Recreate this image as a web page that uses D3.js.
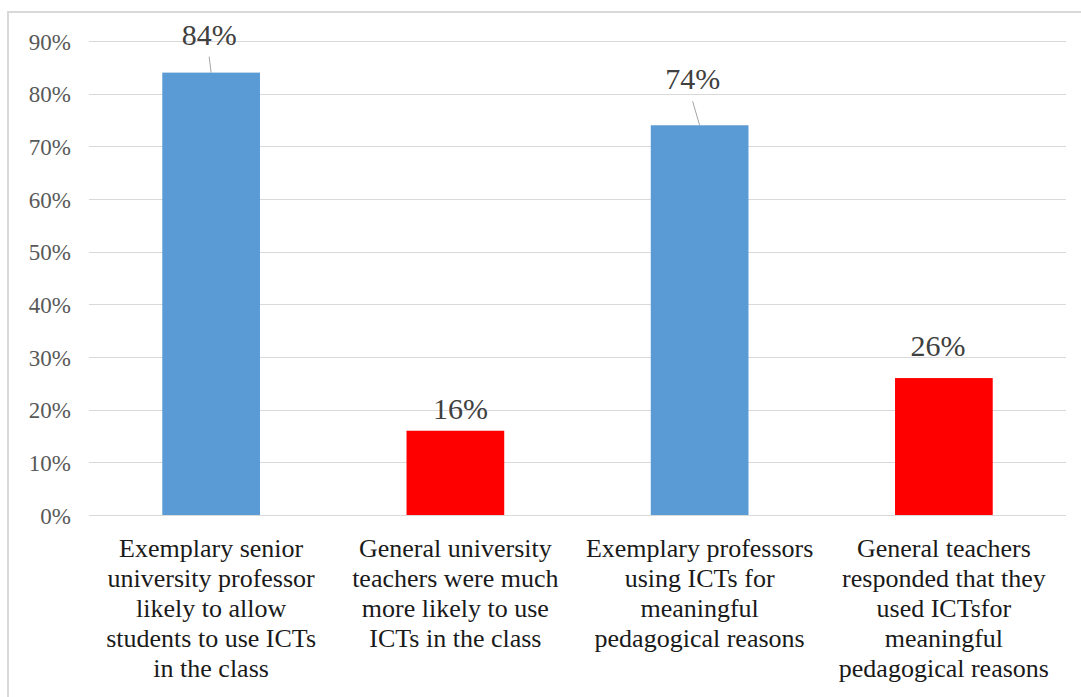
<!DOCTYPE html>
<html><head><meta charset="utf-8">
<script src="https://cdn.jsdelivr.net/npm/d3@7"></script>
<style>body{margin:0;background:#fff}svg{display:block}</style>
</head><body><svg id="c" width="1081" height="697"></svg>
<script>
const categories = [
  ["Exemplary senior","university professor","likely to allow","students to use ICTs","in the class"],
  ["General university","teachers were much","more likely to use","ICTs in the class"],
  ["Exemplary professors","using ICTs for","meaningful","pedagogical reasons"],
  ["General teachers","responded that they","used ICTsfor","meaningful","pedagogical reasons"]
];
const values = [0.84, 0.16, 0.74, 0.26];
const barColors = ["#5B9BD5", "#FF0000", "#5B9BD5", "#FF0000"];
const tickValues = [0, 0.1, 0.2, 0.3, 0.4, 0.5, 0.6, 0.7, 0.8, 0.9];

const svg = d3.select("#c");
const L = 89, R = 1066, T = 41, B = 515;
const SERIF = '"Liberation Serif", "Times New Roman", serif';

// border
svg.append("rect").attr("x", 8).attr("y", 12).attr("width", 1090).attr("height", 700)
  .attr("fill", "none").attr("stroke", "#d9d9d9").attr("stroke-width", 2);

const x = d3.scaleBand().domain(d3.range(values.length)).range([L, R]).padding(0);
const y = d3.scaleLinear().domain([0, 0.9]).range([B, T]);

// gridlines
svg.append("g").selectAll("line").data(tickValues).join("line")
  .attr("x1", L).attr("x2", R)
  .attr("y1", d => Math.round(y(d)) + 0.5).attr("y2", d => Math.round(y(d)) + 0.5)
  .attr("stroke", "#d9d9d9").attr("stroke-width", 1);

// y axis labels
const fmt = d3.format(".0%");
const yAxis = d3.axisLeft(y).tickValues(tickValues).tickFormat(fmt).tickSize(0).tickPadding(0);
const ga = svg.append("g").attr("transform", "translate(71,0)").call(yAxis);
ga.select(".domain").remove();
ga.selectAll("text").style("font-family", SERIF).style("font-size", "23px")
  .attr("fill", "#595959").attr("dy", "0.35em");

// bars
const bw = x.bandwidth() * 0.4;
svg.append("g").selectAll("rect").data(values).join("rect")
  .attr("x", (d, i) => x(i) + x.bandwidth() / 2 - bw / 2)
  .attr("y", d => y(d)).attr("width", bw).attr("height", d => y(0) - y(d))
  .attr("fill", (d, i) => barColors[i]);

// value labels (offsets from bar top center)
const labelOffsets = [[-2, -28, true], [5, -12, false], [-7, -36, true], [-6, -22, false]];
values.forEach((v, i) => {
  const cx = x(i) + x.bandwidth() / 2;
  const [dx, dy, leader] = labelOffsets[i];
  const lx = cx + dx, ly = y(v) + dy;
  svg.append("text").attr("x", lx).attr("y", ly).attr("text-anchor", "middle")
    .style("font-family", SERIF).style("font-size", "30px").attr("fill", "#404040")
    .text(fmt(v));
  if (leader) {
    svg.append("line").attr("x1", lx).attr("y1", ly + 12).attr("x2", cx).attr("y2", y(v))
      .attr("stroke", "#a6a6a6").attr("stroke-width", 1);
  }
});

// category labels
categories.forEach((lines, i) => {
  const cx = x(i) + x.bandwidth() / 2;
  const t = svg.append("text").attr("text-anchor", "middle")
    .style("font-family", SERIF).style("font-size", "26px").attr("fill", "#1a1a1a");
  lines.forEach((s, j) => {
    t.append("tspan").attr("x", cx).attr("y", 557 + j * 30).text(s);
  });
});
</script></body></html>
